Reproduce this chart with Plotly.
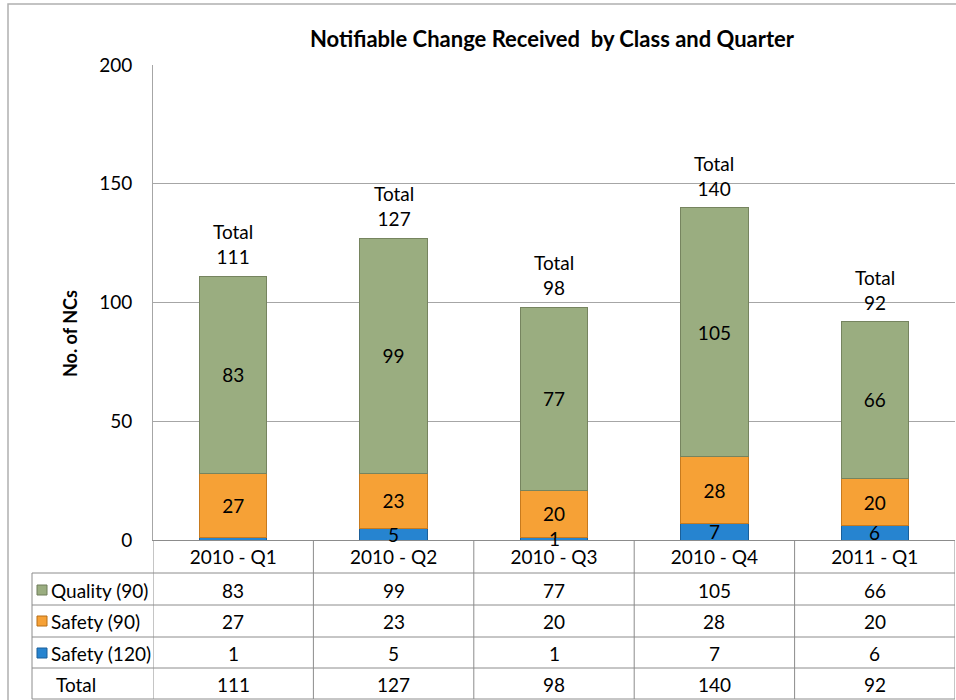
import plotly.graph_objects as go

# ---------------- data ----------------
quarters = ["2010 - Q1", "2010 - Q2", "2010 - Q3", "2010 - Q4", "2011 - Q1"]
safety120 = [1, 5, 1, 7, 6]
safety90 = [27, 23, 20, 28, 20]
quality90 = [83, 99, 77, 105, 66]
totals = [111, 127, 98, 140, 92]
series_names = ["Quality (90)", "Safety (90)", "Safety (120)"]
title_text = "Notifiable Change Received  by Class and Quarter"
y_title = "No. of NCs"

FONT = "Lato, Carlito, 'Liberation Sans', sans-serif"
GREEN = "#9aad80"
ORANGE = "#f6a136"
BLUE = "#2684d0"
GRID = "#a6a6a6"
TLINE = "#8c8c8c"
FS = 19

# layout geometry (pixels)
W, H = 956, 700
L, R, T, B = 153, 955, 65, 540


def px(x):
    return (x - L) / (R - L)


def py(y):
    return (B - y) / (B - T)


fig = go.Figure()

bar_font = dict(family=FONT, size=FS, color="black")
fig.add_trace(go.Bar(
    x=quarters, y=safety120, name=series_names[2],
    marker=dict(color=BLUE, line=dict(color="#1b5f99", width=1)),
))
fig.add_trace(go.Bar(
    x=quarters, y=safety90, name=series_names[1],
    marker=dict(color=ORANGE, line=dict(color="#c77a1e", width=1)),
    text=[str(v) for v in safety90], textposition="inside", insidetextanchor="middle",
    textangle=0, textfont=bar_font,
))
fig.add_trace(go.Bar(
    x=quarters, y=quality90, name=series_names[0],
    marker=dict(color=GREEN, line=dict(color="#76845f", width=1)),
    text=[str(v) for v in quality90], textposition="inside", insidetextanchor="middle",
    textangle=0, textfont=bar_font,
))

shapes = []
annotations = []

# labels of the thin blue segment (the first one is not shown in the original)
for i, (q, v) in enumerate(zip(quarters, safety120)):
    if i == 0:
        continue
    annotations.append(dict(xref="x", yref="y", x=q, y=v / 2, text=str(v),
                            showarrow=False, xanchor="center", yanchor="middle",
                            font=bar_font))

# total labels above each bar
for q, t in zip(quarters, totals):
    annotations.append(dict(xref="x", yref="y", x=q, y=t, text=f"Total<br>{t}",
                            showarrow=False, xanchor="center", yanchor="bottom",
                            yshift=6, font=bar_font))

# outer chart border
shapes.append(dict(type="rect", xref="paper", yref="paper",
                   x0=px(8), x1=px(1000), y0=py(760), y1=py(4),
                   line=dict(color="#b0b0b0", width=1.5), layer="below"))

# table lines
row_lines = [573, 605, 637, 668, 699]
for yl in row_lines:
    shapes.append(dict(type="line", xref="paper", yref="paper",
                       x0=px(32), x1=px(R), y0=py(yl), y1=py(yl),
                       line=dict(color=TLINE, width=1)))
# vertical dividers between categories (from axis to bottom)
for k in range(len(quarters) + 1):
    shapes.append(dict(type="line", xref="x", yref="paper",
                       x0=k - 0.5, x1=k - 0.5, y0=py(B), y1=py(699),
                       line=dict(color=TLINE, width=1)))
# left border of label column
shapes.append(dict(type="line", xref="paper", yref="paper",
                   x0=px(32), x1=px(32), y0=py(573), y1=py(699),
                   line=dict(color=TLINE, width=1)))

# table rows
row_centers = [590, 621, 653, 684]
row_labels = series_names + ["Total"]
row_values = [quality90, safety90, safety120, totals]
key_colors = [GREEN, ORANGE, BLUE, None]
key_edges = ["#6f7d5a", "#b86f16", "#1b5f99", None]
for rc, lab, vals, kc, ke in zip(row_centers, row_labels, row_values, key_colors, key_edges):
    if kc:
        shapes.append(dict(type="rect", xref="paper", yref="paper",
                           x0=px(37), x1=px(47), y0=py(rc + 5), y1=py(rc - 5),
                           fillcolor=kc, line=dict(color=ke, width=1)))
        annotations.append(dict(xref="paper", yref="paper", x=px(49), y=py(rc),
                                text=lab, showarrow=False, xanchor="left", yanchor="middle",
                                font=dict(family=FONT, size=FS, color="black")))
    else:
        annotations.append(dict(xref="paper", yref="paper", x=px(54), y=py(rc),
                                text=lab, showarrow=False, xanchor="left", yanchor="middle",
                                font=dict(family=FONT, size=FS, color="black")))
    for q, v in zip(quarters, vals):
        annotations.append(dict(xref="x", yref="paper", x=q, y=py(rc),
                                text=str(v), showarrow=False, xanchor="center", yanchor="middle",
                                font=dict(family=FONT, size=FS, color="black")))

# y-axis title
annotations.append(dict(xref="paper", yref="paper", x=px(70), y=py(334),
                        text=f"<b>{y_title}</b>", showarrow=False, textangle=-90,
                        xanchor="center", yanchor="middle",
                        font=dict(family=FONT, size=18, color="black")))
# title
annotations.append(dict(xref="paper", yref="paper", x=px(552), y=py(38),
                        text=f"<b>{title_text}</b>", showarrow=False,
                        xanchor="center", yanchor="middle",
                        font=dict(family=FONT, size=22, color="black")))

fig.update_layout(
    width=W, height=H,
    margin=dict(l=L, r=W - R, t=T, b=H - B, pad=0),
    paper_bgcolor="white", plot_bgcolor="white",
    barmode="stack", bargap=0.58,
    showlegend=False,
    uniformtext=dict(minsize=FS, mode="show"),
    font=dict(family=FONT, size=FS, color="black"),
    shapes=shapes, annotations=annotations,
    xaxis=dict(showgrid=False, showline=True, linecolor=TLINE, linewidth=1,
               ticks="", ticklabelstandoff=0, tickfont=dict(family=FONT, size=FS),
               range=[-0.5, 4.5], fixedrange=True),
    yaxis=dict(range=[0, 200], dtick=50, showgrid=True, gridcolor=GRID, gridwidth=1,
               showline=True, linecolor=GRID, linewidth=1, zeroline=False,
               ticks="", ticklabelstandoff=16, tickfont=dict(family=FONT, size=19),
               fixedrange=True),
)

fig.write_html("out.html", config={"displayModeBar": False},
               post_script="document.body.style.margin='0';")
